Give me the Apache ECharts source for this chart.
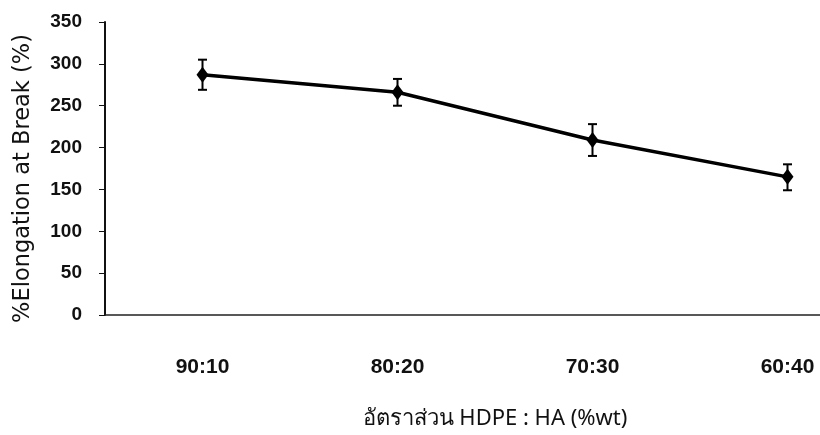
<!DOCTYPE html>
<html>
<head>
<meta charset="utf-8">
<script src="https://cdn.jsdelivr.net/npm/echarts@6/dist/echarts.min.js"></script>
<style>html,body{margin:0;padding:0;background:#fff;}#c{width:820px;height:435px;}</style>
</head>
<body>
<div id="c"></div>
<script>
const categories = ['90:10', '80:20', '70:30', '60:40'];
const elongation = [287, 266, 209, 165];
const errLow = [269, 250, 190, 149];
const errHigh = [305, 282, 228, 180];
const yTicks = [0, 50, 100, 150, 200, 250, 300, 350];

const chart = echarts.init(document.getElementById('c'));
chart.setOption({
  animation: false,
  backgroundColor: '#ffffff',
  grid: { left: 105, right: -65, top: 22, bottom: 120, outerBoundsMode: 'none', containLabel: false },
  xAxis: {
    type: 'category',
    data: categories,
    boundaryGap: true,
    axisLine: { lineStyle: { color: '#222', width: 1.5 } },
    axisTick: { show: false },
    axisLabel: { margin: 42, fontSize: 21, color: '#111', fontFamily: 'Liberation Sans, Arial, sans-serif', fontWeight: 'bold' },
    name: 'อัตราส่วน HDPE : HA (%wt)',
    nameLocation: 'middle',
    nameGap: 93,
    nameTextStyle: { fontSize: 22, color: '#111', fontFamily: 'Noto Sans, sans-serif' }
  },
  yAxis: {
    type: 'value',
    min: 0, max: 350, interval: 50,
    splitLine: { show: false },
    axisLine: { show: true, lineStyle: { color: '#111', width: 2 } },
    axisTick: { show: true, length: 6, lineStyle: { color: '#111' } },
    axisLabel: {
      margin: 23, fontSize: 19, color: '#111', fontWeight: 'bold',
      fontFamily: 'Liberation Sans, Arial, sans-serif',
      formatter: v => yTicks.includes(v) ? String(v) : ''
    },
    name: '%Elongation at Break (%)',
    nameLocation: 'middle',
    nameGap: 70,
    nameTextStyle: { fontSize: 22.5, color: '#111', fontFamily: 'DejaVu Sans, sans-serif', padding: [0, 20, 0, 0] }
  },
  series: [
    {
      type: 'line',
      data: elongation,
      symbol: 'diamond',
      symbolSize: [12, 16],
      itemStyle: { color: '#000' },
      lineStyle: { color: '#000', width: 3.5 },
      z: 3
    },
    {
      type: 'custom',
      data: categories.map((c, i) => [i, errLow[i], errHigh[i]]),
      renderItem: function (params, api) {
        const i = api.value(0);
        const lo = api.coord([i, api.value(1)]);
        const hi = api.coord([i, api.value(2)]);
        const w = 4.5;
        const st = { stroke: '#000', lineWidth: 2 };
        return {
          type: 'group',
          children: [
            { type: 'line', shape: { x1: lo[0], y1: lo[1], x2: hi[0], y2: hi[1] }, style: st },
            { type: 'line', shape: { x1: lo[0] - w, y1: lo[1], x2: lo[0] + w, y2: lo[1] }, style: st },
            { type: 'line', shape: { x1: hi[0] - w, y1: hi[1], x2: hi[0] + w, y2: hi[1] }, style: st }
          ]
        };
      },
      z: 4
    }
  ]
});
</script>
</body>
</html>
